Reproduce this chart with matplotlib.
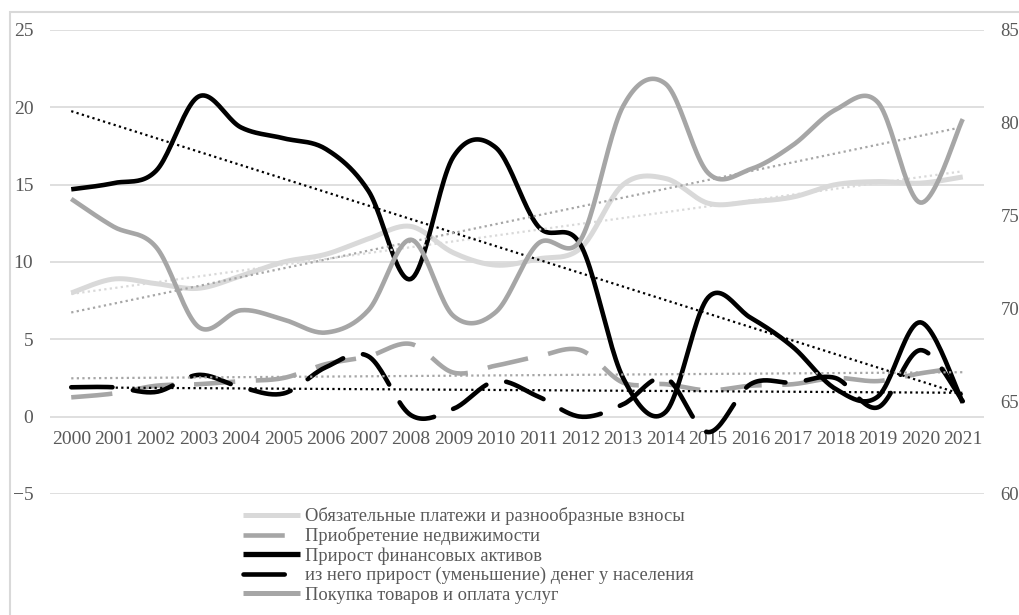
import numpy as np
import matplotlib
matplotlib.use("Agg")
import matplotlib.pyplot as plt
from matplotlib.lines import Line2D
from matplotlib.patches import Rectangle

years = [str(y) for y in range(2000, 2022)]
platezhi = [8.0, 8.9, 8.6, 8.3, 9.1, 10.0, 10.5, 11.5, 12.3, 10.6, 9.8, 10.2, 10.9,
            15.0, 15.4, 13.8, 13.9, 14.2, 15.0, 15.2, 15.1, 15.5]
nedvizh = [1.25, 1.5, 2.0, 2.1, 2.3, 2.5, 3.4, 3.9, 4.7, 2.85, 3.3, 3.9, 4.3,
           2.2, 2.1, 1.7, 2.0, 2.1, 2.5, 2.3, 2.8, 3.2]
fin_aktivy = [14.7, 15.1, 15.9, 20.7, 18.7, 18.0, 17.3, 14.6, 8.9, 16.8, 17.4, 12.3, 11.1,
              2.5, 0.3, 7.7, 6.4, 4.5, 1.8, 1.3, 6.1, 0.9]
dengi = [1.9, 1.9, 1.6, 2.7, 1.9, 1.5, 3.2, 3.9, 0.1, 0.5, 2.3, 1.3, 0.0,
         0.8, 2.5, -1.0, 2.1, 2.2, 2.5, 0.6, 4.3, 1.0]
pokupka = [75.9, 74.4, 73.3, 69.0, 69.9, 69.4, 68.7, 69.9, 73.7, 69.6, 69.8, 73.5, 73.7,
           80.9, 82.1, 77.3, 77.5, 78.8, 80.7, 81.1, 75.7, 80.2]

labels = ["Обязательные платежи и разнообразные взносы",
          "Приобретение недвижимости",
          "Прирост финансовых активов",
          "из него прирост (уменьшение) денег у населения",
          "Покупка товаров и оплата услуг"]

LIGHT = "#d9d9d9"
MID = "#a6a6a6"
TXT = "#595959"
plt.rcParams["font.family"] = ["Liberation Serif", "DejaVu Serif"]
plt.rcParams["font.size"] = 14


def smooth(y, n=24):
    # excel-like smoothed line (catmull-rom bezier)
    x = np.arange(len(y), dtype=float)
    p = np.column_stack([x, np.asarray(y, dtype=float)])
    p = np.vstack([p[0], p, p[-1]])
    t = np.linspace(0, 1, n)[:, None]
    out = []
    for i in range(1, len(p) - 2):
        p0, p1, p2, p3 = p[i - 1], p[i], p[i + 1], p[i + 2]
        c1 = p1 + (p2 - p0) / 6
        c2 = p2 - (p3 - p1) / 6
        seg = (1 - t) ** 3 * p1 + 3 * (1 - t) ** 2 * t * c1 + 3 * (1 - t) * t ** 2 * c2 + t ** 3 * p2
        out.append(seg if i == 1 else seg[1:])
    s = np.vstack(out)
    return s[:, 0], s[:, 1]


def trend(y):
    x = np.arange(len(y))
    k, b = np.polyfit(x, y, 1)
    return x, k * x + b


fig = plt.figure(figsize=(10.2, 6.15), dpi=100)
ax = fig.add_axes([50 / 1020, 1 - 494 / 615, 934 / 1020, 464 / 615])
ax2 = ax.twinx()

dash = (0, (9, 4.5))
lw = 3.3

xs, ys = smooth(platezhi)
ax.plot(xs, ys, color=LIGHT, lw=lw + 0.3, solid_capstyle="butt", zorder=3)
xs, ys = smooth(nedvizh)
ax.plot(xs, ys, color=MID, lw=lw, linestyle=dash, dash_capstyle="butt", zorder=3)
xs, ys = smooth(fin_aktivy)
ax.plot(xs, ys, color="black", lw=lw, solid_capstyle="butt", zorder=4)
xs, ys = smooth(dengi)
ax.plot(xs, ys, color="black", lw=lw, linestyle=dash, dash_capstyle="round", zorder=4)
xs, ys = smooth(pokupka)
ax2.plot(xs, ys, color=MID, lw=lw, solid_capstyle="butt", zorder=3)

tl = 1.6
tx, ty = trend(platezhi)
ax.plot(tx, ty, color=LIGHT, lw=tl, linestyle=(0, (1, 1.5)), zorder=5)
tx, ty = trend(nedvizh)
ax.plot(tx, ty, color=MID, lw=tl, linestyle=(0, (1, 1.5)), zorder=5)
tx, ty = trend(fin_aktivy)
ax.plot(tx, ty, color="black", lw=tl, linestyle=(0, (1, 1.5)), zorder=5)
tx, ty = trend(dengi)
ax.plot(tx, ty, color="black", lw=tl, linestyle=(0, (1, 1.5)), zorder=5)
tx, ty = trend(pokupka)
ax2.plot(tx, ty, color=MID, lw=tl, linestyle=(0, (1, 1.5)), zorder=5)

ax.set_xlim(-0.5, len(years) - 0.5)
ax.set_ylim(-5, 25)
ax.set_yticks(range(-5, 26, 5))
ax2.set_ylim(60, 85)
ax2.set_yticks(range(60, 86, 5))
ax.set_xticks(range(len(years)))
ax.set_xticklabels(years)
ax.grid(axis="y", color=LIGHT, lw=1.2)
ax.set_axisbelow(True)

for a in (ax, ax2):
    for s in a.spines.values():
        s.set_visible(False)
ax.spines["bottom"].set_position(("data", 0))
ax.tick_params(axis="x", length=0, pad=10, colors=TXT, labelsize=14)
ax.tick_params(axis="y", length=0, pad=12, colors=TXT, labelsize=14)
ax2.tick_params(axis="y", length=0, pad=12, colors=TXT, labelsize=13.5)

handles = [Line2D([], [], color=LIGHT, lw=lw + 0.3, solid_capstyle="butt"),
           Line2D([], [], color=MID, lw=lw, linestyle=dash, dash_capstyle="butt"),
           Line2D([], [], color="black", lw=lw + 0.5, solid_capstyle="butt"),
           Line2D([], [], color="black", lw=lw, linestyle=dash, dash_capstyle="round"),
           Line2D([], [], color=MID, lw=lw + 0.3, solid_capstyle="butt")]
fig.legend(handles, labels, loc="upper left", bbox_to_anchor=(243 / 1020, 1 - 507 / 615),
           frameon=False, borderpad=0, borderaxespad=0, labelspacing=0.12,
           handlelength=3.1, handletextpad=0.25, labelcolor=TXT, fontsize=13.3)

fig.patches.append(Rectangle((10 / 1020, -0.1), 1.2, 1.1 - 12 / 615, transform=fig.transFigure,
                             fill=False, edgecolor=LIGHT, lw=1.5))

fig.savefig("out.png", dpi=100)
